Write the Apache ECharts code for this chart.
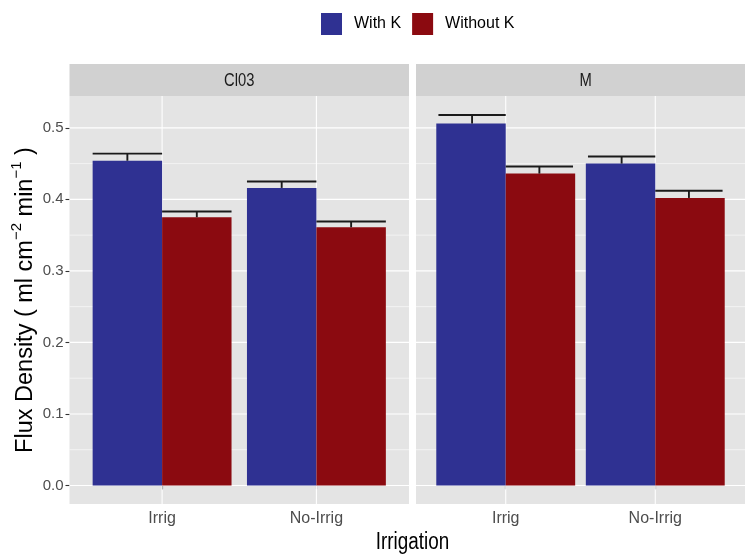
<!DOCTYPE html>
<html>
<head>
<meta charset="utf-8">
<script src="https://cdn.jsdelivr.net/npm/echarts@6/dist/echarts.min.js"></script>
<style>
  html, body { margin: 0; padding: 0; background: #fff; }
  #chart { width: 745px; height: 556px; }
</style>
</head>
<body>
<div id="chart"></div>
<script>
// ---------------- data ----------------
const categories = ['Irrig', 'No-Irrig'];
const panels = ['Cl03', 'M'];
const seriesNames = ['With K', 'Without K'];

const withK_Cl03 = [0.454, 0.416];
const withoutK_Cl03 = [0.375, 0.361];
const withK_M = [0.506, 0.450];
const withoutK_M = [0.436, 0.402];

// standard errors (upper whisker = mean + se)
const withKSe_Cl03 = [0.010, 0.009];
const withoutKSe_Cl03 = [0.008, 0.008];
const withKSe_M = [0.012, 0.010];
const withoutKSe_M = [0.010, 0.010];

const yTicks = [0, 0.1, 0.2, 0.3, 0.4, 0.5];
const yMinor = [0.05, 0.15, 0.25, 0.35, 0.45];

// ---------------- layout / style ----------------
const Y_MIN = -0.0259, Y_MAX = 0.5445;
const X_MIN = 0.4, X_MAX = 2.6;
const GRID_TOP = 96, GRID_H = 408, GRID_W = 339.5;
const GRID_LEFTS = [69.5, 416];
const BAR_W = GRID_W / (X_MAX - X_MIN) * 0.45;
const BLUE = '#2F3192', RED = '#8B0A10';
const PANEL_BG = '#E4E4E4', STRIP_BG = '#D1D1D1';
const REG = "'Liberation Sans', Arial, sans-serif";
const NARROW_SCALE = 0.82;

const panelData = [
  { means: [withK_Cl03, withoutK_Cl03], ses: [withKSe_Cl03, withoutKSe_Cl03] },
  { means: [withK_M, withoutK_M], ses: [withKSe_M, withoutKSe_M] }
];

const grids = GRID_LEFTS.map(l => ({
  left: l, top: GRID_TOP, width: GRID_W, height: GRID_H,
  show: true, backgroundColor: PANEL_BG, borderWidth: 0, containLabel: false
}));

const xAxes = GRID_LEFTS.map((l, gi) => ({
  type: 'value', gridIndex: gi, min: X_MIN, max: X_MAX,
  axisLine: { show: false },
  splitLine: { show: false },
  axisTick: { show: true, customValues: [1, 2], length: 4, lineStyle: { color: '#333', width: 1.1 } },
  axisLabel: {
    show: true, customValues: [1, 2], margin: 7,
    formatter: v => categories[Math.round(v) - 1] || '',
    color: '#4D4D4D', fontSize: 16, fontFamily: REG
  }
}));

const yAxes = GRID_LEFTS.map((l, gi) => ({
  type: 'value', gridIndex: gi, min: Y_MIN, max: Y_MAX,
  axisLine: { show: false },
  splitLine: { show: false },
  axisTick: { show: gi === 0, customValues: yTicks, length: 4, lineStyle: { color: '#333', width: 1.1 } },
  axisLabel: {
    show: gi === 0, customValues: yTicks, margin: 6,
    formatter: v => v.toFixed(1),
    color: '#4D4D4D', fontSize: 15, fontFamily: REG
  },
  name: gi === 0 ? '{t|Flux Density ( ml cm}{s|\u22122}{t| min}{s|\u22121}{t| )}' : '',
  nameLocation: 'middle',
  nameGap: 32,
  nameTextStyle: {
    color: '#000', fontFamily: REG,
    rich: {
      t: { fontSize: 23.5, fontFamily: REG, color: '#000', padding: [4, 0, 0, 0] },
      s: { fontSize: 15, fontFamily: REG, color: '#000', verticalAlign: 'top' }
    }
  }
}));

const series = [];
panelData.forEach((pd, gi) => {
  // gridlines (white) through the axes' scales
  const gridData = [];
  yTicks.forEach(v => gridData.push([0, v]));
  yMinor.forEach(v => gridData.push([1, v]));
  categories.forEach((c, i) => gridData.push([2, i + 1]));
  series.push({
    type: 'custom', name: 'grid' + gi, xAxisIndex: gi, yAxisIndex: gi, z: 1, silent: true,
    data: gridData,
    renderItem: (params, api) => {
      const kind = api.value(0), v = api.value(1);
      let p1, p2, w;
      if (kind === 2) { p1 = api.coord([v, Y_MIN]); p2 = api.coord([v, Y_MAX]); w = 1.1; }
      else { p1 = api.coord([X_MIN, v]); p2 = api.coord([X_MAX, v]); w = kind === 0 ? 1.1 : 0.55; }
      return { type: 'line', shape: { x1: p1[0], y1: p1[1], x2: p2[0], y2: p2[1] },
               style: { stroke: '#FFFFFF', lineWidth: w } };
    }
  });
  // bars
  pd.means.forEach((arr, si) => {
    series.push({
      type: 'bar', name: seriesNames[si], xAxisIndex: gi, yAxisIndex: gi, z: 2,
      barWidth: BAR_W, barGap: '0%',
      itemStyle: { color: si === 0 ? BLUE : RED },
      data: categories.map((c, i) => [i + 1, arr[i]])
    });
  });
  // error bars (upper whisker)
  pd.means.forEach((arr, si) => {
    const sign = si === 0 ? -1 : 1;
    series.push({
      type: 'custom', name: seriesNames[si] + ' se', xAxisIndex: gi, yAxisIndex: gi, z: 3, silent: true,
      data: categories.map((c, i) => [i + 1, arr[i], pd.ses[si][i]]),
      renderItem: (params, api) => {
        const x = api.value(0) + sign * 0.225, m = api.value(1), s = api.value(2);
        const top = api.coord([x, m + s]);
        const base = api.coord([x, m]);
        const half = api.size([0.225, 0])[0];
        return { type: 'group', children: [
          { type: 'line', shape: { x1: top[0], y1: base[1], x2: top[0], y2: top[1] },
            style: { stroke: '#1A1A1A', lineWidth: 1.9 } },
          { type: 'line', shape: { x1: top[0] - half, y1: top[1], x2: top[0] + half, y2: top[1] },
            style: { stroke: '#1A1A1A', lineWidth: 1.9 } }
        ] };
      }
    });
  });
});

const graphics = [];
GRID_LEFTS.forEach((l, gi) => {
  graphics.push({ type: 'rect', left: l, top: 64, shape: { width: GRID_W, height: 32 },
                  style: { fill: STRIP_BG }, silent: true });
  graphics.push({ type: 'text', x: l + GRID_W / 2, y: 81, scaleX: NARROW_SCALE,
                  style: { x: 0, y: 0, text: panels[gi], fill: '#1A1A1A', font: '18px ' + REG,
                           textAlign: 'center', textVerticalAlign: 'middle' }, silent: true });
});
graphics.push({ type: 'text', x: (GRID_LEFTS[0] + GRID_LEFTS[1] + GRID_W) / 2, y: 543, scaleX: NARROW_SCALE,
                style: { x: 0, y: 0, text: 'Irrigation', fill: '#000', font: '23px ' + REG,
                         textAlign: 'center', textVerticalAlign: 'middle' }, silent: true });

const chart = echarts.init(document.getElementById('chart'), null, { renderer: 'canvas' });
chart.setOption({
  animation: false,
  backgroundColor: '#FFFFFF',
  legend: {
    data: seriesNames, left: 321, top: 13, padding: 0, orient: 'horizontal',
    icon: 'rect', itemWidth: 21, itemHeight: 22, itemGap: 11,
    textStyle: { fontSize: 16, color: '#000', fontFamily: REG, padding: [0, 0, 0, 7] }
  },
  grid: grids,
  xAxis: xAxes,
  yAxis: yAxes,
  series: series,
  graphic: graphics
});
</script>
</body>
</html>
